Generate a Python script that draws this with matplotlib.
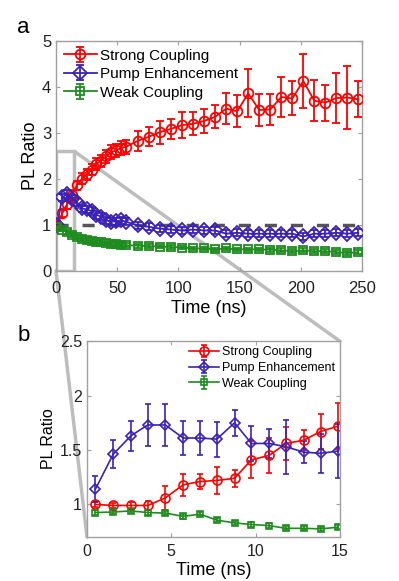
import numpy as np
import matplotlib
matplotlib.use("Agg")
import matplotlib.pyplot as plt
from matplotlib.patches import Rectangle, ConnectionPatch

plt.rcParams['font.family'] = ['Liberation Sans', 'DejaVu Sans']

# Data, panel a (long time window)
t_a = [1, 5, 9, 13, 17, 21, 25, 29, 33, 37, 41, 45, 49, 53, 57, 67, 76, 85, 94,
       103, 112, 121, 130, 139, 148, 157, 166, 175, 184, 193, 202, 211, 220,
       229, 238, 247]
strong_a = [1.0, 1.25, 1.45, 1.65, 1.86, 2.0, 2.1, 2.2, 2.33, 2.4, 2.49, 2.58,
            2.62, 2.67, 2.7, 2.83, 2.92, 3.02, 3.09, 3.17, 3.2, 3.26, 3.35,
            3.53, 3.47, 3.86, 3.5, 3.51, 3.78, 3.75, 4.13, 3.7, 3.66, 3.76,
            3.77, 3.73]
strong_a_err = [0.05, 0.08, 0.1, 0.1, 0.1, 0.12, 0.12, 0.12, 0.13, 0.13, 0.14,
                0.15, 0.15, 0.15, 0.15, 0.22, 0.2, 0.25, 0.22, 0.28, 0.25, 0.27,
                0.25, 0.33, 0.35, 0.52, 0.35, 0.33, 0.44, 0.37, 0.59, 0.45,
                0.39, 0.54, 0.68, 0.39]
pump_a = [1.0, 1.6, 1.67, 1.57, 1.5, 1.36, 1.34, 1.3, 1.22, 1.18, 1.1, 1.07,
          1.08, 1.1, 1.07, 0.99, 0.96, 0.92, 0.9, 0.88, 0.9, 0.88, 0.88, 0.81,
          0.83, 0.81, 0.81, 0.81, 0.81, 0.81, 0.75, 0.81, 0.81, 0.83, 0.81,
          0.83]
pump_a_err = [0.08] * len(t_a)
weak_a = [0.95, 0.9, 0.85, 0.78, 0.74, 0.7, 0.67, 0.65, 0.63, 0.63, 0.6, 0.59,
          0.58, 0.57, 0.56, 0.55, 0.54, 0.53, 0.52, 0.51, 0.49, 0.49, 0.47,
          0.49, 0.47, 0.47, 0.47, 0.46, 0.45, 0.43, 0.45, 0.43, 0.43, 0.41,
          0.39, 0.41]
weak_a_err = [0.04] * len(t_a)

# Data, panel b (first 15 ns)
t_b = [0.5, 1.55, 2.6, 3.6, 4.65, 5.7, 6.7, 7.7, 8.75, 9.75, 10.8, 11.8,
       12.85, 13.85, 14.9]
strong_b = [1.0, 0.99, 0.99, 0.99, 1.06, 1.18, 1.21, 1.22, 1.24, 1.41, 1.45,
            1.56, 1.59, 1.67, 1.72]
strong_b_err = [0.02, 0.02, 0.03, 0.04, 0.11, 0.1, 0.07, 0.12, 0.08, 0.17,
                0.16, 0.15, 0.09, 0.16, 0.21]
pump_b = [1.14, 1.46, 1.63, 1.73, 1.73, 1.61, 1.61, 1.6, 1.75, 1.56, 1.56,
          1.53, 1.48, 1.47, 1.49]
pump_b_err = [0.12, 0.13, 0.135, 0.19, 0.19, 0.16, 0.16, 0.16, 0.12, 0.16,
              0.13, 0.25, 0.1, 0.18, 0.25]
weak_b = [0.925, 0.93, 0.94, 0.925, 0.92, 0.89, 0.91, 0.855, 0.83, 0.815,
          0.805, 0.78, 0.78, 0.775, 0.79]
weak_b_err = [0.02] * len(t_b)

labels = ['Strong Coupling', 'Pump Enhancement', 'Weak Coupling']
colors = ['#ff0000', '#3a22b8', '#1e8c1e']
markers = ['o', 'D', 's']
gray = '#bdbdbd'


def style_axes(ax):
    for s in ax.spines.values():
        s.set_color('#a0a0a0')
        s.set_linewidth(1.0)
    ax.tick_params(direction='in', top=True, right=True, color='#a0a0a0',
                   length=3, width=0.8, labelcolor='#222222')


fig = plt.figure(figsize=(3.99, 5.81), dpi=100)

# panel a
ax1 = fig.add_axes([0.1404, 0.5336, 0.767, 0.3959])
ax1.set_zorder(2)
ax1.patch.set_alpha(0)
ax1.plot([0, 250], [1, 1], color='#555555', lw=2.5, dashes=(3.5, 4.0),
         zorder=1)
series_a = [(strong_a, strong_a_err), (pump_a, pump_a_err),
            (weak_a, weak_a_err)]
for (y, e), lab, c, m in zip(series_a, labels, colors, markers):
    ms = 7 if m == 'o' else (7 if m == 'D' else 5.5)
    ax1.errorbar(t_a, y, yerr=e, color=c, marker=m, ms=ms, mfc='none',
                 mec=c, mew=1.3, lw=1.3, capsize=3, elinewidth=1.3,
                 label=lab, zorder=3)
ax1.add_patch(Rectangle((0, 0), 15, 2.6, fill=False, edgecolor=gray,
                        lw=2.5, zorder=2))
ax1.set_xlim(0, 250)
ax1.set_ylim(0, 5)
ax1.set_xticks([0, 50, 100, 150, 200, 250])
ax1.set_yticks([0, 1, 2, 3, 4, 5])
ax1.tick_params(labelsize=12)
ax1.tick_params(axis='x', pad=7)
ax1.set_xlabel('Time (ns)', fontsize=13, labelpad=3)
ax1.set_ylabel('PL Ratio', fontsize=13, labelpad=2)
style_axes(ax1)
ax1.legend(loc='upper left', frameon=False, fontsize=11, handlelength=2.2,
           handletextpad=0.15, labelspacing=0.3, borderaxespad=0.2,
           borderpad=0.3)

# panel b
ax2 = fig.add_axes([0.218, 0.0757, 0.634, 0.337])
ax2.set_zorder(2)
series_b = [(strong_b, strong_b_err), (pump_b, pump_b_err),
            (weak_b, weak_b_err)]
for (y, e), lab, c, m in zip(series_b, labels, colors, markers):
    ms = 6.5 if m == 'o' else (5.5 if m == 'D' else 5)
    ax2.errorbar(t_b, y, yerr=e, color=c, marker=m, ms=ms, mfc='none',
                 mec=c, mew=1.2, lw=1.2, capsize=2.5, elinewidth=1.2,
                 label=lab)
ax2.set_xlim(0, 15)
ax2.set_ylim(0.7, 2.5)
ax2.set_xticks([0, 5, 10, 15])
ax2.set_yticks([1, 1.5, 2, 2.5])
ax2.set_yticklabels(['1', '1.5', '2', '2.5'])
ax2.tick_params(labelsize=11.5)
ax2.tick_params(axis='x', pad=5)
ax2.set_xlabel('Time (ns)', fontsize=13, labelpad=2)
ax2.set_ylabel('PL Ratio', fontsize=11.5, labelpad=3)
style_axes(ax2)
ax2.legend(loc='upper right', frameon=False, fontsize=9, handlelength=2.4,
           handletextpad=0.2, labelspacing=0.3, borderaxespad=0.2,
           borderpad=0.2)

# zoom connector lines
for pa, pb in [((15, 2.6), (15, 2.5)), ((0, 0), (0, 0.7))]:
    con = ConnectionPatch(xyA=pa, coordsA='data', axesA=ax1,
                          xyB=pb, coordsB='data', axesB=ax2,
                          color=gray, lw=2.5, zorder=1)
    fig.add_artist(con)

fig.text(0.043, 0.953, 'a', fontsize=16, va='center', ha='left')
fig.text(0.043, 0.423, 'b', fontsize=16, va='center', ha='left')

fig.savefig('out.png', dpi=100)
